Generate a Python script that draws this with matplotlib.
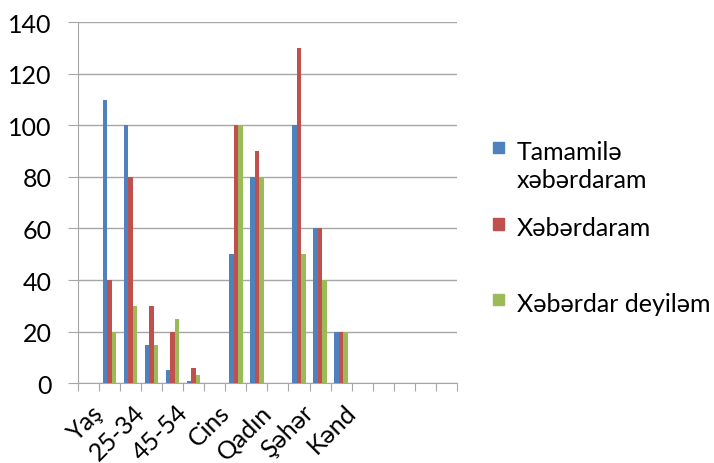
import matplotlib
matplotlib.use('Agg')
import matplotlib.pyplot as plt
import matplotlib.transforms as mtransforms
from matplotlib.patches import Rectangle
import numpy as np

plt.rcParams['font.family'] = ['Lato', 'Open Sans', 'DejaVu Sans']

# categories (only every other label is shown on the axis, like the original)
categories = ['Yaş', '18-24', '25-34', '35-44', '45-54', '55+', 'Cins', 'Kişi',
              'Qadın', 'Yaşayış yeri', 'Şəhər', 'Qəsəbə', 'Kənd', '', '', '', '', '']
series_names = ['Tamamilə\nxəbərdaram', 'Xəbərdaram', 'Xəbərdar deyiləm']
tamamile = [0, 110, 100, 15, 5, 1, 0, 50, 80, 0, 100, 60, 20, 0, 0, 0, 0, 0]
xeberdaram = [0, 40, 80, 30, 20, 6, 0, 100, 90, 0, 130, 60, 20, 0, 0, 0, 0, 0]
deyilem = [0, 20, 30, 15, 25, 3, 0, 100, 80, 0, 50, 40, 20, 0, 0, 0, 0, 0]
colors = ['#4F81BD', '#C0504D', '#9BBB59']

fig = plt.figure(figsize=(7.14, 4.64), dpi=100)
ax = fig.add_axes([0.109, 0.172, 0.531, 0.778])

x = np.arange(len(categories))
w = 0.215
for i, vals in enumerate([tamamile, xeberdaram, deyilem]):
    ax.bar(x + (i - 1) * w, vals, width=w, color=colors[i], zorder=3)

ax.set_xlim(-0.5, len(categories) - 0.5)
ax.set_ylim(0, 140)
ax.set_yticks(np.arange(0, 141, 20))
ax.yaxis.grid(True, color='#a6a6a6', linewidth=1, zorder=0)
ax.tick_params(axis='y', labelsize=18, length=7, color='#a6a6a6', pad=12)

# category boundaries as major ticks, labels on minor ticks
ax.set_xticks(np.arange(-0.5, len(categories), 1))
ax.set_xticklabels([])
ax.tick_params(axis='x', which='major', length=6, color='#a6a6a6')
ax.set_xticks(x[::2], minor=True)
ax.set_xticklabels(categories[::2], minor=True, rotation=45, ha='right',
                   rotation_mode='anchor', fontsize=18)
ax.tick_params(axis='x', which='minor', length=0, pad=12)
shift = mtransforms.ScaledTranslation(3 / 100, 0, fig.dpi_scale_trans)
for lbl in ax.get_xticklabels(minor=True):
    lbl.set_transform(lbl.get_transform() + shift)

for s in ['top', 'right']:
    ax.spines[s].set_visible(False)
ax.spines['left'].set_color('#a6a6a6')
ax.spines['bottom'].set_color('#a6a6a6')

# legend drawn by hand to match the spacing of the original
leg_y = [0.681, 0.516, 0.353]
for name, c, yy in zip(series_names, colors, leg_y):
    fig.patches.append(Rectangle((0.690, yy - 0.013), 0.0155, 0.024, color=c,
                                 transform=fig.transFigure, figure=fig))
    fig.text(0.724, yy + 0.016, name, fontsize=18, va='top', ha='left',
             linespacing=1.3)

fig.savefig('out.png', dpi=100)
